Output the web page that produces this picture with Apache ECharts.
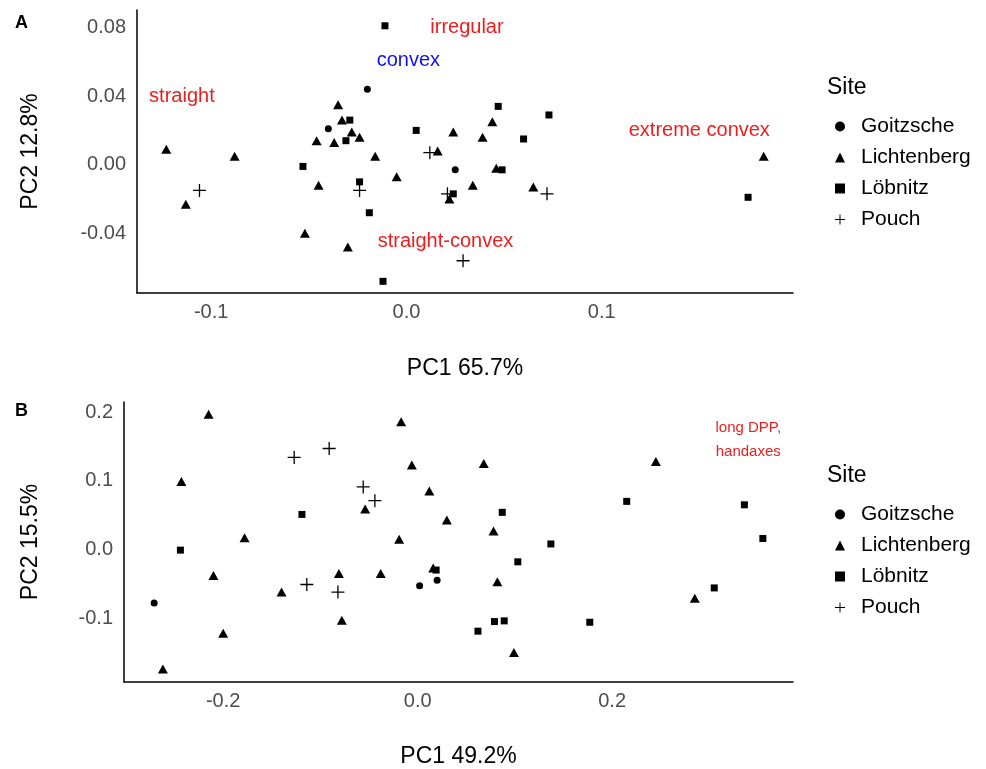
<!DOCTYPE html>
<html>
<head>
<meta charset="utf-8">
<title>PCA scatter</title>
<script src="https://cdn.jsdelivr.net/npm/echarts@6/dist/echarts.min.js"></script>
<style>
  html, body { margin: 0; padding: 0; background: #fff; }
  #main { width: 986px; height: 769px; }
</style>
</head>
<body>
<div id="main"></div>
<script type="text/javascript">
// sites, in legend order
var sites = ['Goitzsche', 'Lichtenberg', 'Löbnitz', 'Pouch'];

// panel A : PC1 / PC2 scores
var aGoitzsche = [[-0.020, 0.044], [-0.040, 0.021], [0.025, -0.003]];
var aLichtenberg = [[-0.035, 0.035], [-0.033, 0.026], [-0.028, 0.019], [-0.024, 0.016], [-0.046, 0.014],
    [-0.037, 0.013], [0.024, 0.019], [-0.123, 0.009], [-0.088, 0.005], [-0.016, 0.005], [0.016, 0.008],
    [-0.005, -0.007], [-0.113, -0.023], [-0.045, -0.012], [0.022, -0.020], [-0.052, -0.040], [-0.030, -0.048],
    [0.034, -0.012], [0.044, 0.025], [0.039, 0.016], [0.046, -0.002], [0.065, -0.013], [0.183, 0.005]];
var aLobnitz = [[-0.011, 0.081], [-0.029, 0.026], [-0.031, 0.014], [0.005, 0.020], [-0.053, -0.001],
    [-0.024, -0.010], [0.024, -0.017], [-0.019, -0.028], [-0.012, -0.068], [0.047, 0.034], [0.073, 0.029],
    [0.060, 0.015], [0.049, -0.003], [0.175, -0.019]];
var aPouch = [[0.012, 0.007], [-0.106, -0.015], [-0.024, -0.015], [0.021, -0.017], [0.029, -0.056], [0.072, -0.017]];

// panel B
var bGoitzsche = [[0.020, -0.045], [0.002, -0.053], [-0.271, -0.078]];
var bLichtenberg = [[-0.215, 0.197], [-0.017, 0.186], [-0.243, 0.099], [-0.006, 0.123], [0.012, 0.085],
    [-0.054, 0.059], [0.030, 0.043], [-0.178, 0.017], [-0.019, 0.015], [-0.210, -0.038], [-0.081, -0.035],
    [-0.038, -0.035], [0.016, -0.027], [-0.140, -0.062], [-0.078, -0.103], [-0.200, -0.122], [-0.262, -0.174],
    [0.068, 0.125], [0.245, 0.128], [0.078, 0.027], [0.082, -0.047], [0.285, -0.071], [0.099, -0.150]];
var bLobnitz = [[-0.119, 0.051], [-0.244, -0.001], [0.019, -0.030], [0.215, 0.070], [0.336, 0.065],
    [0.087, 0.054], [0.355, 0.016], [0.137, 0.008], [0.103, -0.018], [0.305, -0.056], [0.079, -0.105],
    [0.089, -0.104], [0.062, -0.119], [0.177, -0.106]];
var bPouch = [[-0.127, 0.134], [-0.091, 0.147], [-0.056, 0.091], [-0.044, 0.071], [-0.114, -0.051], [-0.082, -0.062]];

// tick labels
var aXTicks = [-0.1, 0.0, 0.1];
var aYTicks = [-0.04, 0.00, 0.04, 0.08];
var bXTicks = [-0.2, 0.0, 0.2];
var bYTicks = [-0.1, 0.0, 0.1, 0.2];

// text notes placed in data coordinates: [text, x, y]
var aNotes = [['irregular', 0.031, 0.080], ['convex', 0.001, 0.0605], ['straight', -0.115, 0.040],
    ['extreme convex', 0.150, 0.0197], ['straight-convex', 0.020, -0.045]];
var bNotes = [['long DPP,\nhandaxes', 0.340, 0.159]];

var red = '#f01c1c';
var noteColor = { 'convex': '#1010f0' };
var plus = 'path://M4.5,0 H5.5 V4.5 H10 V5.5 H5.5 V10 H4.5 V5.5 H0 V4.5 H4.5 Z';
var symbols = { 'Goitzsche': 'circle', 'Lichtenberg': 'triangle', 'Löbnitz': 'rect', 'Pouch': plus };
var sizes = { 'Goitzsche': 7, 'Lichtenberg': [10, 9], 'Löbnitz': 7, 'Pouch': 13 };
var font = 'Liberation Sans, Arial, sans-serif';

function siteSeries(name, data, idx) {
    return {
        name: name,
        type: 'scatter',
        xAxisIndex: idx,
        yAxisIndex: idx,
        data: data,
        symbol: symbols[name],
        symbolSize: sizes[name],
        itemStyle: { color: '#000', opacity: 1 },
        emphasis: { disabled: true }
    };
}

function noteSeries(notes, idx, size, lh) {
    return {
        type: 'scatter',
        xAxisIndex: idx,
        yAxisIndex: idx,
        symbolSize: 0,
        silent: true,
        itemStyle: { opacity: 1 },
        data: notes.map(function (n) {
            return { name: n[0], value: [n[1], n[2]], label: { color: noteColor[n[0]] || red } };
        }),
        label: {
            show: true,
            position: 'inside',
            formatter: '{b}',
            fontFamily: font,
            fontSize: size,
            lineHeight: lh
        }
    };
}

function xAxis(idx, min, max, ticks, digits, name, gap) {
    return {
        type: 'value', gridIndex: idx, min: min, max: max,
        name: name, nameLocation: 'middle', nameGap: gap,
        nameTextStyle: { fontFamily: font, fontSize: 23, color: '#000' },
        axisLine: { onZero: false, lineStyle: { color: '#000', width: 1.5 } },
        axisTick: { show: false },
        splitLine: { show: false },
        axisLabel: {
            customValues: ticks, margin: 9,
            fontFamily: font, fontSize: 20, color: '#4d4d4d',
            formatter: function (v) { return v.toFixed(digits); }
        }
    };
}

function yAxis(idx, min, max, ticks, digits, name, gap) {
    return {
        type: 'value', gridIndex: idx, min: min, max: max,
        name: name, nameLocation: 'middle', nameGap: gap,
        nameTextStyle: { fontFamily: font, fontSize: 23, color: '#000' },
        axisLine: { show: true, onZero: false, lineStyle: { color: '#000', width: 1.5 } },
        axisTick: { show: false },
        splitLine: { show: false },
        axisLabel: {
            customValues: ticks, margin: 11,
            fontFamily: font, fontSize: 20, color: '#4d4d4d',
            formatter: function (v) { return v.toFixed(digits); }
        }
    };
}

function legend(top) {
    return {
        orient: 'vertical',
        left: 830,
        top: top,
        itemWidth: 10,
        itemHeight: 10,
        itemGap: 10,
        selectedMode: false,
        data: sites.map(function (s) { return { name: s, icon: symbols[s] }; }),
        itemStyle: { color: '#000', opacity: 1 },
        textStyle: { fontFamily: font, fontSize: 21, lineHeight: 21, color: '#000', padding: [0, 0, 0, 11] }
    };
}

var myChart = echarts.init(document.getElementById('main'));

var option = {
    animation: false,
    backgroundColor: '#fff',
    title: [
        { text: 'A', left: 10, top: 9, textStyle: { fontFamily: font, fontSize: 18, fontWeight: 'bold', color: '#000' } },
        { text: 'B', left: 10, top: 397, textStyle: { fontFamily: font, fontSize: 18, fontWeight: 'bold', color: '#000' } },
        { text: 'Site', left: 822, top: 71, textStyle: { fontFamily: font, fontSize: 23, fontWeight: 'normal', color: '#000' } },
        { text: 'Site', left: 822, top: 459, textStyle: { fontFamily: font, fontSize: 23, fontWeight: 'normal', color: '#000' } }
    ],
    legend: [legend(111), legend(499)],
    grid: [
        { left: 137, top: 10, width: 656, height: 283 },
        { left: 124, top: 402, width: 669, height: 280 }
    ],
    xAxis: [
        xAxis(0, -0.138, 0.198, aXTicks, 1, 'PC1 65.7%', 64),
        xAxis(1, -0.302, 0.386, bXTicks, 1, 'PC1 49.2%', 63)
    ],
    yAxis: [
        yAxis(0, -0.0748, 0.0902, aYTicks, 2, 'PC2 12.8%', 95),
        yAxis(1, -0.193, 0.2147, bYTicks, 1, 'PC2 15.5%', 82)
    ],
    series: [
        siteSeries('Goitzsche', aGoitzsche, 0),
        siteSeries('Lichtenberg', aLichtenberg, 0),
        siteSeries('Löbnitz', aLobnitz, 0),
        siteSeries('Pouch', aPouch, 0),
        siteSeries('Goitzsche', bGoitzsche, 1),
        siteSeries('Lichtenberg', bLichtenberg, 1),
        siteSeries('Löbnitz', bLobnitz, 1),
        siteSeries('Pouch', bPouch, 1),
        noteSeries(aNotes, 0, 20, 24),
        noteSeries(bNotes, 1, 15, 24)
    ]
};

myChart.setOption(option);
</script>
</body>
</html>
